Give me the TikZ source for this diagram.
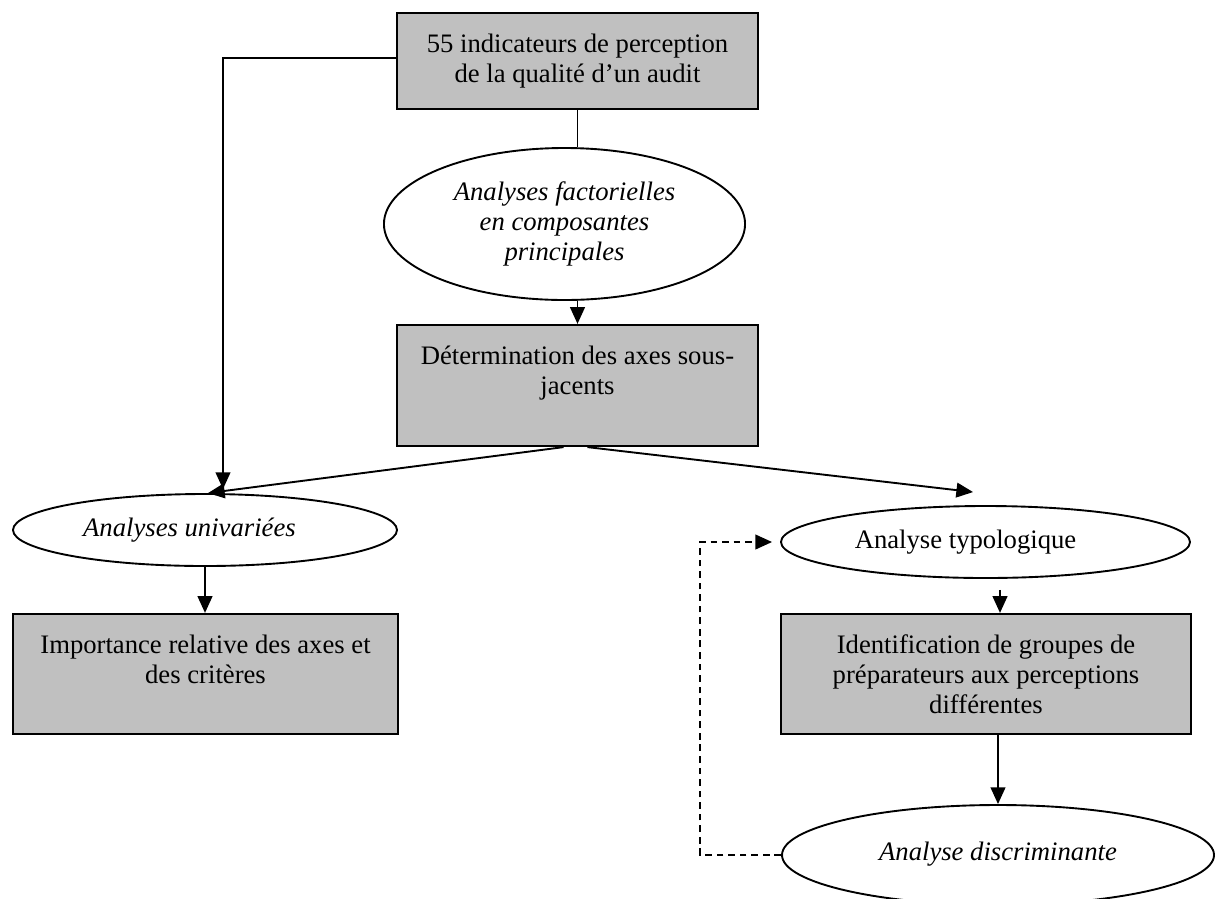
\documentclass[tikz,border=0pt]{standalone}
\usepackage{fontspec}
\setmainfont{Liberation Serif}
\usetikzlibrary{shapes.geometric,arrows.meta}
\definecolor{boxgray}{HTML}{C0C0C0}
\begin{document}
\begin{tikzpicture}[x=0.45pt,y=-0.45pt,
  every node/.style={font=\fontsize{12pt}{13.5pt}\selectfont, inner sep=0pt},
  itext/.style={font=\fontsize{12pt}{13.5pt}\selectfont\itshape},
  greybox/.style={draw, line width=1pt, fill=boxgray, rectangle, align=center},
  oval/.style={draw, line width=0.85pt, ellipse, fill=white},
  conn/.style={line width=0.85pt},
  arr/.style={conn, -{Triangle[length=7.5pt,width=6.6pt]}},
  dashconn/.style={arr, dash pattern=on 3pt off 2.2pt}]
\useasboundingbox (0,0) rectangle (1217,898);
\clip (0,0) rectangle (1217,898);

\node[greybox, minimum width=162.45pt, minimum height=43.2pt] (A) at (577.5,61)
  {\raisebox{1.2pt}{55 indicateurs de perception}\\\raisebox{1.2pt}{de la qualité d’un audit}};
\node[oval, itext, align=center, minimum width=162.5pt, minimum height=68.4pt] (fact) at (564.5,224)
  {Analyses factorielles\\en composantes\\principales};
\node[greybox, minimum width=162.45pt, minimum height=54.45pt] (B) at (577.5,385.5)
  {Détermination des axes sous-\\jacents\\\mbox{}};
\node[oval, itext, minimum width=172.8pt, minimum height=32.4pt] (univ) at (205,530)
  {Analyses univariées\kern14pt};
\node[greybox, minimum width=173.25pt, minimum height=54pt] (C) at (205.5,674)
  {Importance relative des axes et\\des critères\\\mbox{}};
\node[oval, minimum width=184.05pt, minimum height=32.4pt] (typo) at (985.5,542)
  {Analyse typologique\kern18pt};
\node[greybox, minimum width=184.5pt, minimum height=54pt] (D) at (986,674)
  {Identification de groupes de\\préparateurs aux perceptions\\différentes};
\node[oval, itext, minimum width=194.4pt, minimum height=45pt] (disc) at (998,855)
  {\raisebox{3.6pt}{Analyse discriminante}};

\draw[arr] ([yshift=1.35pt]A.west) -| ([xshift=8.1pt,yshift=1.8pt]univ.north);
\draw[conn] (A.south) -- (A.south |- fact.north);
\draw[arr] (B.north |- fact.south) -- (B.north);
\draw[arr] ([xshift=-6.3pt]B.south) -- ([xshift=1.35pt]univ.north);
\draw[arr] ([xshift=4.5pt]B.south) -- ([xshift=-5.6pt,yshift=5.85pt]typo.north);
\draw[arr] (univ.south) -- (univ.south |- C.north);
\draw[arr] ([xshift=6.3pt,yshift=10.35pt]D.north) -- ([xshift=6.3pt]D.north);
\draw[arr] (disc.north |- D.south) -- (disc.north);
\draw[dashconn] (disc.west) -- ++(-36.45pt,0) |- ([xshift=-3.6pt]typo.west);
\end{tikzpicture}
\end{document}
